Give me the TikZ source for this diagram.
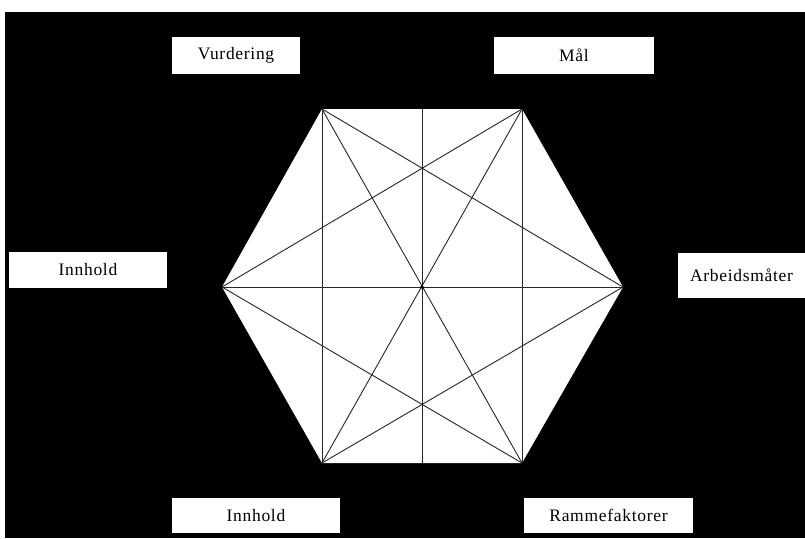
\documentclass[tikz,border=0pt]{standalone}
\usepackage{fontspec}
\setmainfont{Liberation Serif}[LetterSpace=4]
\begin{document}
\begin{tikzpicture}[x=1pt,y=-1pt,
  lbl/.style={fill=white, draw=none, inner sep=0pt, font=\fontsize{17.5}{20}\selectfont, text=black},
  hexline/.style={draw=black!85, line width=0.9pt}]
\useasboundingbox (0,0) rectangle (805,538);
\fill[white] (0,0) rectangle (805,538);
\fill[black] (5,12) rectangle (805,538);
% hexagon vertices
\coordinate (TL) at (322,109);
\coordinate (TR) at (522,109);
\coordinate (R) at (623,287);
\coordinate (BR) at (522,463);
\coordinate (BL) at (322,463);
\coordinate (L) at (222,287);
\coordinate (T) at (422,109);
\coordinate (B) at (422,463);
\coordinate (C) at (422,287);
\fill[white] (TL) -- (TR) -- (R) -- (BR) -- (BL) -- (L) -- cycle;
\draw[hexline] (TL) -- (BL);
\draw[hexline] (TR) -- (BR);
\draw[hexline] (T) -- (B);
\draw[hexline] (L) -- (R);
\draw[hexline] (TL) -- (BR);
\draw[hexline] (TR) -- (BL);
\draw[hexline] (TL) -- (R);
\draw[hexline] (TR) -- (L);
\draw[hexline] (BL) -- (R);
\draw[hexline] (BR) -- (L);
\fill[black] (C) circle (1.8);
% labels
\node[lbl, minimum width=128, minimum height=37] (vur) at (236,55.5) {Vurdering};
\node[lbl, minimum width=160, minimum height=37] (maal) at (574,55.5) {Mål};
\node[lbl, minimum width=158, minimum height=36] (innl) at (88,270) {Innhold};
\node[lbl, minimum width=127, minimum height=45] (arb) at (741.5,275.5) {Arbeidsmåter};
\node[lbl, minimum width=168, minimum height=35] (innb) at (256,515.5) {Innhold};
\node[lbl, minimum width=169, minimum height=35] (ramme) at (608.5,515.5) {Rammefaktorer};
\end{tikzpicture}
\end{document}
